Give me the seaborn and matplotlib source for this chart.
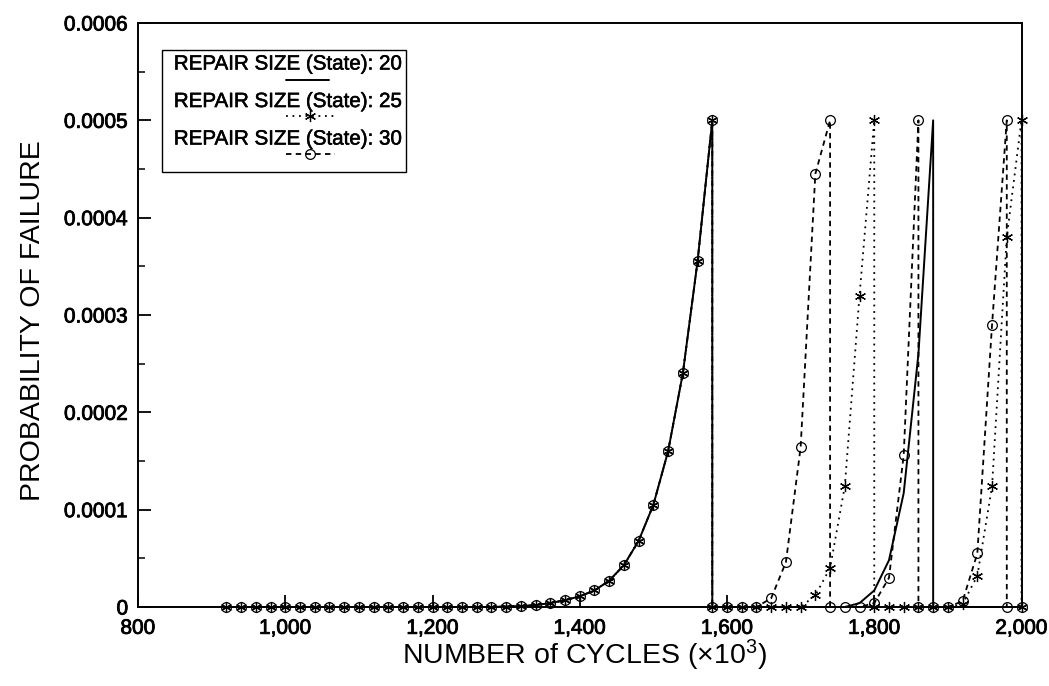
import matplotlib
matplotlib.use("Agg")
import matplotlib.pyplot as plt
import matplotlib.patheffects as pe
import numpy as np
import pandas as pd
import seaborn as sns
from matplotlib.lines import Line2D
from matplotlib.legend_handler import HandlerLine2D
from matplotlib.patches import Rectangle
from matplotlib.ticker import FuncFormatter, MultipleLocator

# ---------------------------------------------------------------------------
# Data: probability of failure vs. number of cycles (x10^3)
# All three repair sizes share the same history up to the first repair.
# ---------------------------------------------------------------------------
cycles_shared = [920, 940, 960, 980, 1000, 1020, 1040, 1060, 1080, 1100,
                 1120, 1140, 1160, 1180, 1200, 1220, 1240, 1260, 1280, 1300,
                 1320, 1340, 1360, 1380, 1400, 1420, 1440, 1460, 1480, 1500,
                 1520, 1540, 1560, 1580]
prob_shared = [0.0, 0.0, 0.0, 0.0, 0.0, 0.0, 0.0, 0.0, 0.0, 0.0,
               0.0, 0.0, 0.0, 0.0, 0.0, 0.0, 0.0, 0.0, 0.0, 0.0000005,
               0.000001, 0.000002, 0.000004, 0.000007, 0.000011, 0.000017,
               0.000027, 0.000043, 0.000068, 0.000105, 0.00016, 0.00024,
               0.000355, 0.0005]

# After the first repair (state 20)
cycles_state20 = [1580, 1600, 1620, 1640, 1660, 1680, 1700, 1720, 1740, 1760,
                  1780, 1800, 1820, 1840, 1860, 1880, 1880, 1900, 1920, 1940,
                  1960, 1980, 2000]
prob_state20 = [0.0, 0.0, 0.0, 0.0, 0.0, 0.0, 0.0, 0.0, 0.0, 0.0,
                0.000004, 0.000017, 0.000048, 0.000117, 0.00026, 0.0005, 0.0,
                0.0, 0.0, 0.0, 0.0, 0.0, 0.0]

# After the first repair (state 25)
cycles_state25 = [1580, 1600, 1620, 1640, 1660, 1680, 1700, 1720, 1740, 1760,
                  1780, 1800, 1800, 1820, 1840, 1860, 1880, 1900, 1920, 1940,
                  1960, 1980, 2000, 2000]
prob_state25 = [0.0, 0.0, 0.0, 0.0, 0.0, 0.0, 0.0, 0.000012, 0.00004,
                0.000124, 0.00032, 0.0005, 0.0, 0.0, 0.0, 0.0, 0.0, 0.0,
                0.000003, 0.000032, 0.000124, 0.00038, 0.0005, 0.0]

# After the first repair (state 30)
cycles_state30 = [1580, 1600, 1620, 1640, 1660, 1680, 1700, 1720, 1740, 1740,
                  1760, 1780, 1800, 1820, 1840, 1860, 1860, 1880, 1900, 1920,
                  1940, 1960, 1980, 1980, 2000]
prob_state30 = [0.0, 0.0, 0.0, 0.0, 0.000009, 0.000046, 0.000164, 0.000445,
                0.0005, 0.0, 0.0, 0.0, 0.000004, 0.00003, 0.000156, 0.0005,
                0.0, 0.0, 0.0, 0.000006, 0.000055, 0.00029, 0.0005, 0.0, 0.0]

states = [20, 25, 30]
legend_labels = ["REPAIR SIZE (State): 20",
                 "REPAIR SIZE (State): 25",
                 "REPAIR SIZE (State): 30"]
x_ticks = [800, 1000, 1200, 1400, 1600, 1800, 2000]
y_ticks = [0, 0.0001, 0.0002, 0.0003, 0.0004, 0.0005, 0.0006]

frames = []
for state, cyc, prob in [(20, cycles_state20, prob_state20),
                         (25, cycles_state25, prob_state25),
                         (30, cycles_state30, prob_state30)]:
    frames.append(pd.DataFrame({"state": state,
                                "cycles": cycles_shared + cyc,
                                "prob": prob_shared + prob}))
data = pd.concat(frames, ignore_index=True)

# ---------------------------------------------------------------------------
# Styling
# ---------------------------------------------------------------------------
sns.set_style("ticks")
plt.rcParams.update({
    "text.color": "black",
    "axes.labelcolor": "black",
    "axes.edgecolor": "black",
    "xtick.color": "black",
    "ytick.color": "black",
    "axes.linewidth": 1.4,
    "mathtext.fontset": "custom",
    "mathtext.rm": "Liberation Sans",
    "mathtext.it": "Liberation Sans:italic",
    "mathtext.bf": "Liberation Sans:bold",
})
plt.rcParams["font.family"] = ["Liberation Sans", "DejaVu Sans"]
heavy = [pe.withStroke(linewidth=0.6, foreground="black")]

line_styles = {
    20: dict(linestyle="-", linewidth=1.4, marker=None),
    25: dict(linestyle=(0, (1.0, 2.6)), linewidth=1.3, marker=(6, 2, 0),
             markersize=8, markerfacecolor="none",
             markeredgecolor="black", markeredgewidth=0.9),
    30: dict(linestyle=(0, (3.0, 2.4)), linewidth=1.3, marker="o",
             markersize=7, markerfacecolor="none",
             markeredgecolor="black", markeredgewidth=0.9),
}

fig = plt.figure(figsize=(10.49, 6.86), dpi=100)
ax = fig.add_axes([138 / 1049, 1 - 607 / 686, 883.5 / 1049, 584 / 686])

for state in [30, 25, 20]:
    sub = data[data["state"] == state]
    sns.lineplot(data=sub, x="cycles", y="prob", ax=ax, sort=False,
                 estimator=None, color="black", clip_on=False,
                 **line_styles[state])

ax.set_xlim(800, 2000)
ax.set_ylim(0, 0.0006)
ax.set_xticks(x_ticks)
ax.set_yticks(y_ticks)
ax.yaxis.set_minor_locator(MultipleLocator(0.00005))
ax.xaxis.set_major_formatter(FuncFormatter(lambda v, p: f"{int(round(v)):,}"))
ax.yaxis.set_major_formatter(
    FuncFormatter(lambda v, p: "0" if abs(v) < 1e-12 else f"{v:.4f}"))

ax.tick_params(axis="both", which="major", direction="in", labelsize=15,
               width=1.3, top=False, right=False)
ax.tick_params(axis="x", which="major", length=9, pad=8.5)
ax.tick_params(axis="y", which="major", length=9, pad=7)
ax.tick_params(axis="y", which="minor", direction="in", length=5, width=1.1,
               right=False)
for lbl in ax.get_xticklabels() + ax.get_yticklabels():
    lbl.set_path_effects(heavy)
for side in ["top", "right", "bottom", "left"]:
    ax.spines[side].set_visible(True)
    ax.spines[side].set_linewidth(1.4)

ax.set_xlabel(r"NUMBER of CYCLES ($\times$10$^{\mathrm{3}}$)", fontsize=20.5)
ax.set_ylabel("PROBABILITY OF FAILURE", fontsize=20.5)
ax.xaxis.set_label_coords(0.505, -0.053)
ax.yaxis.set_label_coords(-0.104, 0.49)


# ---------------------------------------------------------------------------
# Legend: label text with the line sample drawn underneath it
# ---------------------------------------------------------------------------
class BelowTextHandler(HandlerLine2D):
    def __init__(self, start, length, drop):
        super().__init__()
        self.start = start
        self.length = length
        self.drop = drop

    def create_artists(self, legend, orig_handle, xdescent, ydescent,
                       width, height, fontsize, trans):
        x0 = self.start * fontsize
        xs = [x0, x0 + 0.5 * self.length * fontsize,
              x0 + self.length * fontsize]
        y = -self.drop * fontsize
        line = Line2D(xs, [y, y, y])
        self.update_prop(line, orig_handle, legend)
        line.set_markevery([1])
        line.set_transform(trans)
        return [line]


handles = [Line2D([], [], color="black", **line_styles[s]) for s in states]
handler_map = {
    handles[0]: BelowTextHandler(5.45, 2.1, 0.5),
    handles[1]: BelowTextHandler(5.45, 2.4, 0.45),
    handles[2]: BelowTextHandler(5.45, 2.4, 0.45),
}
ax.add_patch(Rectangle((0.027, 0.745), 0.276, 0.208, transform=ax.transAxes,
                       facecolor="white", edgecolor="black", linewidth=1.0,
                       zorder=5))
leg = ax.legend(handles, legend_labels, handler_map=handler_map,
                loc="upper left", bbox_to_anchor=(0.0405, 0.946),
                frameon=False, fontsize=14.8, handlelength=0.0,
                handletextpad=0.0, borderpad=0.0, borderaxespad=0.0,
                labelspacing=0.9)
leg.set_zorder(6)
for txt in leg.get_texts():
    txt.set_path_effects([pe.withStroke(linewidth=0.4, foreground="black")])

fig.savefig("out.png", dpi=100, facecolor="white")
